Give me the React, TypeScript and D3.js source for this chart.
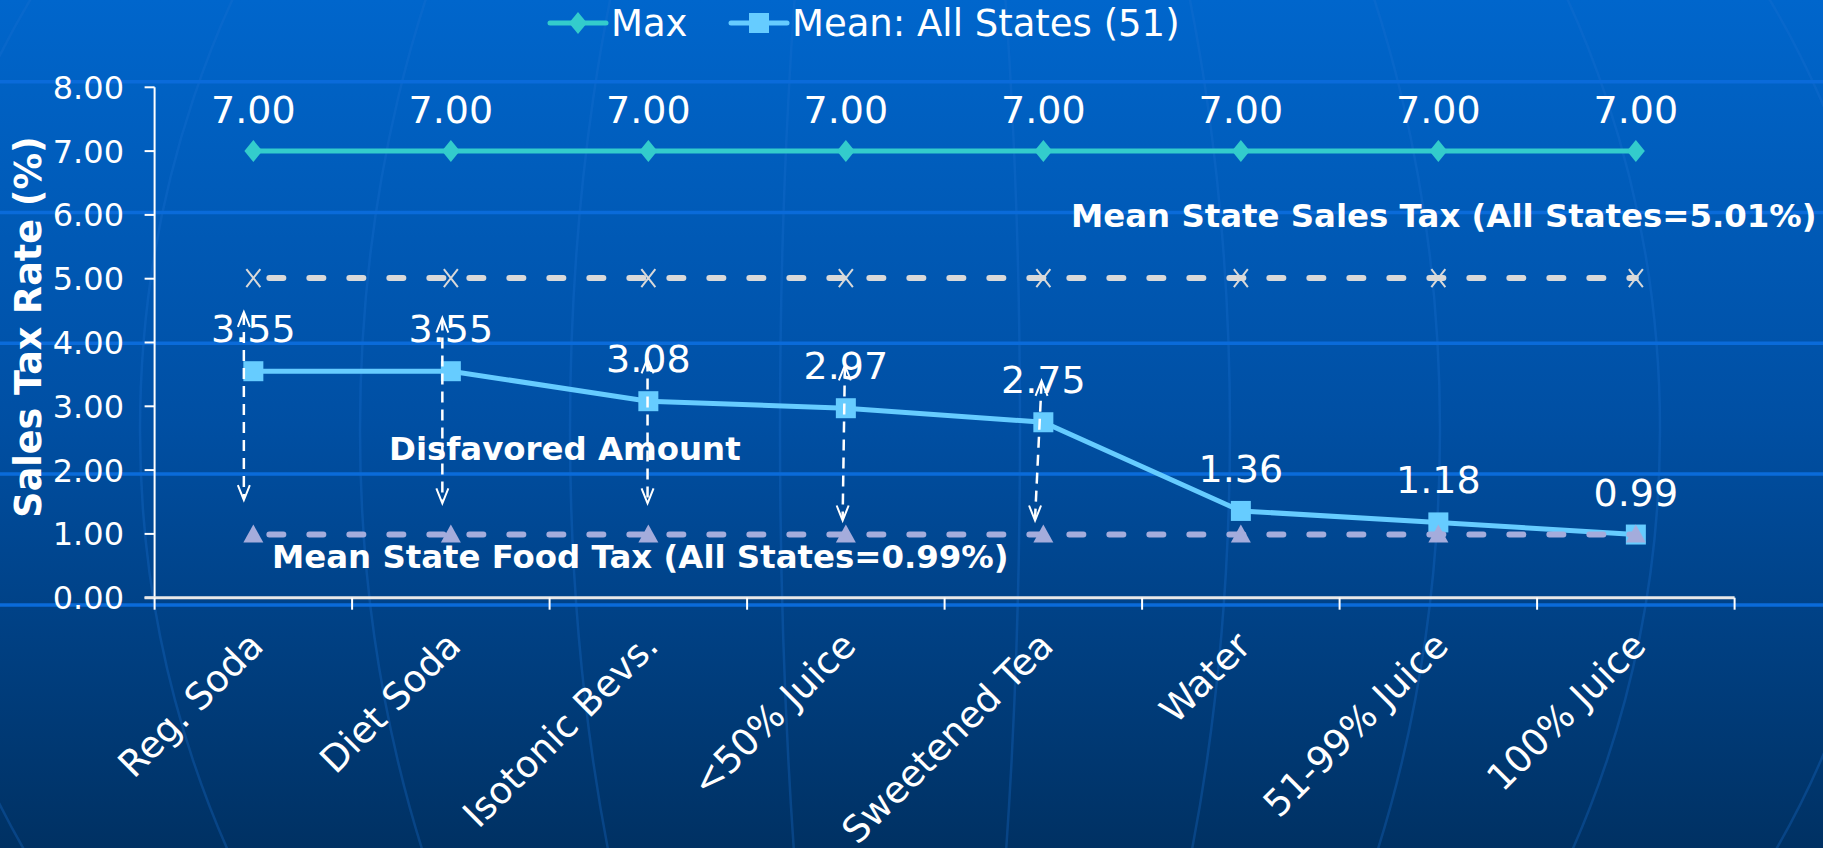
import React from 'react';
import { scaleBand, scaleLinear, line, range } from 'd3';

const categories = [
  'Reg. Soda',
  'Diet Soda',
  'Isotonic Bevs.',
  '<50% Juice',
  'Sweetened Tea',
  'Water',
  '51-99% Juice',
  '100% Juice',
];
const maxRate = [7, 7, 7, 7, 7, 7, 7, 7];
const meanRate = [3.55, 3.55, 3.08, 2.97, 2.75, 1.36, 1.18, 0.99];
const salesTaxMean = [5.01, 5.01, 5.01, 5.01, 5.01, 5.01, 5.01, 5.01];
const foodTaxMean = [0.99, 0.99, 0.99, 0.99, 0.99, 0.99, 0.99, 0.99];
const yTicks = [0, 1, 2, 3, 4, 5, 6, 7, 8];

// disfavored amount arrows (first five categories), in rate units
const arrowTop = [4.48, 4.39, 3.75, 3.64, 3.4];
const arrowBottom = [1.53, 1.48, 1.48, 1.21, 1.21];

const dim = {
  width: 1823,
  height: 848,
  left: 154.6,
  right: 1734.6,
  top: 87.3,
  bottom: 597.7,
};

// small horizontal nudge of each arrow (px), top / bottom end
const arrowNudgeTop = [-9.5, -8.5, -0.8, -1, -1.8];
const arrowNudgeBottom = [-9.5, -8.5, -0.8, -3.2, -8.3];

const C = {
  max: '#33CCCC',
  mean: '#66CCFF',
  sales: '#D9D9D9',
  food: '#A4ACDC',
  white: '#FFFFFF',
};

const font = '"DejaVu Sans", Verdana, sans-serif';

const App = () => {
  const x = scaleBand<string>().domain(categories).range([dim.left, dim.right]).padding(0);
  const y = scaleLinear().domain([0, 8]).range([dim.bottom, dim.top]);
  const cx = (i: number) => (x(categories[i]) as number) + x.bandwidth() / 2;

  const mk = line<number>()
    .x((_, i) => cx(i))
    .y((d) => y(d));

  const diamond = (px: number, py: number, w = 9, h = 11) =>
    `M${px},${py - h}L${px + w},${py}L${px},${py + h}L${px - w},${py}Z`;
  const triangle = (px: number, py: number) => `M${px},${py - 10}L${px + 10},${py + 8}L${px - 10},${py + 8}Z`;
  const cross = (px: number, py: number) =>
    `M${px - 7},${py - 9}L${px + 7},${py + 9}M${px + 7},${py - 9}L${px - 7},${py + 9}`;
  // open arrowhead with tip at (px, py); dir -1 points up, 1 points down
  const head = (px: number, py: number, dir: number) =>
    `M${px - 6},${py - dir * 15}L${px},${py}L${px + 6},${py - dir * 15}`;

  const latitudes = range(5).map((i) => 81.7 + i * 130.8);
  const meridianRx = [120, 330, 540, 760, 990, 1240, 1520];

  return (
    <svg
      width={dim.width}
      height={dim.height}
      style={{ position: 'absolute', left: 0, top: 0, fontFamily: font }}
    >
      <defs>
        <linearGradient id="bg" x1="0" y1="0" x2="0" y2="1">
          <stop offset="0" stopColor="#0066CC" />
          <stop offset="0.5" stopColor="#004FA3" />
          <stop offset="1" stopColor="#003163" />
        </linearGradient>
      </defs>
      <rect width={dim.width} height={dim.height} fill="url(#bg)" />

      {/* globe decoration */}
      <g fill="none" stroke="#1A6FD0" strokeOpacity={0.3} strokeWidth={2.5}>
        {meridianRx.map((rx) => (
          <ellipse key={rx} cx={900} cy={430} rx={rx} ry={900} />
        ))}
      </g>
      <g stroke="#0A6BDA" strokeWidth={3.5}>
        {latitudes.map((ly) => (
          <line key={ly} x1={0} x2={dim.width} y1={ly} y2={ly} />
        ))}
      </g>

      {/* legend */}
      <g fontSize={37} fill={C.white}>
        <line x1={550} x2={606} y1={23} y2={23} stroke={C.max} strokeWidth={5} strokeLinecap="round" />
        <path d={diamond(578, 23)} fill={C.max} />
        <text x={611} y={36}>Max</text>
        <line x1={731} x2={787} y1={23} y2={23} stroke={C.mean} strokeWidth={5} strokeLinecap="round" />
        <rect x={749} y={13} width={20} height={20} fill={C.mean} />
        <text x={792} y={36}>Mean: All States (51)</text>
      </g>

      {/* y axis */}
      <g stroke={C.white} strokeWidth={2}>
        <line x1={dim.left} x2={dim.left} y1={y(8)} y2={y(0)} />
        {yTicks.map((t) => (
          <line key={t} x1={dim.left - 10} x2={dim.left} y1={y(t)} y2={y(t)} />
        ))}
      </g>
      <g fontSize={32} fill={C.white} textAnchor="end">
        {yTicks.map((t) => (
          <text key={t} x={124} y={y(t)} dy="0.36em">
            {t.toFixed(2)}
          </text>
        ))}
      </g>
      <text
        transform={`translate(41, 327) rotate(-90)`}
        textAnchor="middle"
        fontSize={36.5}
        fontWeight="bold"
        fill={C.white}
      >
        Sales Tax Rate (%)
      </text>

      {/* x axis */}
      <g stroke={C.white} strokeWidth={2}>
        <line x1={dim.left - 10} x2={dim.right} y1={y(0)} y2={y(0)} strokeWidth={3} stroke="#E8E8E8" />
        {range(categories.length + 1).map((i) => {
          const tx = dim.left + i * x.bandwidth();
          return <line key={i} x1={tx} x2={tx} y1={y(0)} y2={y(0) + 12} />;
        })}
      </g>
      <g fontSize={37} fill={C.white} textAnchor="end">
        {categories.map((c, i) => (
          <text key={c} transform={`translate(${cx(i) - 8}, 628) rotate(-45)`} dy="0.76em">
            {c}
          </text>
        ))}
      </g>

      {/* mean line */}
      <path d={mk(meanRate) as string} fill="none" stroke={C.mean} strokeWidth={5} />
      {meanRate.map((v, i) => (
        <rect key={i} x={cx(i) - 10} y={y(v) - 10} width={20} height={20} fill={C.mean} />
      ))}

      {/* mean state sales tax */}
      <path
        d={mk(salesTaxMean) as string}
        fill="none"
        stroke={C.sales}
        strokeWidth={6}
        strokeDasharray="14 26"
        strokeLinecap="round"
        strokeDashoffset={-16}
      />
      <g stroke={C.sales} strokeWidth={2} fill="none">
        {salesTaxMean.map((v, i) => (
          <path key={i} d={cross(cx(i), y(v))} />
        ))}
      </g>

      {/* mean state food tax */}
      <path
        d={mk(foodTaxMean) as string}
        fill="none"
        stroke={C.food}
        strokeWidth={6}
        strokeDasharray="14 26"
        strokeLinecap="round"
        strokeDashoffset={-16}
      />
      {foodTaxMean.map((v, i) => (
        <path key={i} d={triangle(cx(i), y(v))} fill={C.food} />
      ))}

      {/* max line */}
      <path d={mk(maxRate) as string} fill="none" stroke={C.max} strokeWidth={5} />
      {maxRate.map((v, i) => (
        <path key={i} d={diamond(cx(i), y(v))} fill={C.max} />
      ))}

      {/* value labels */}
      <g fontSize={38} fill={C.white} textAnchor="middle">
        {maxRate.map((v, i) => (
          <text key={'m' + i} x={cx(i)} y={y(v) - 28}>
            {v.toFixed(2)}
          </text>
        ))}
        {meanRate.map((v, i) => (
          <text key={'a' + i} x={cx(i)} y={y(v) - 29}>
            {v.toFixed(2)}
          </text>
        ))}
      </g>

      {/* disfavored arrows */}
      <g stroke={C.white} strokeWidth={2.5} fill="none">
        {arrowTop.map((t, i) => {
          const x1 = cx(i) + arrowNudgeTop[i];
          const x2 = cx(i) + arrowNudgeBottom[i];
          const y1 = y(t);
          const y2 = y(arrowBottom[i]);
          return (
            <g key={i}>
              <line x1={x1} y1={y1 + 2} x2={x2} y2={y2 - 2} strokeDasharray="11 7" />
              <path d={head(x1, y1, -1)} strokeWidth={2} />
              <path d={head(x2, y2, 1)} strokeWidth={2} />
            </g>
          );
        })}
      </g>

      {/* annotations */}
      <g fontSize={32.4} fontWeight="bold" fill={C.white}>
        <text x={1071} y={227}>Mean State Sales Tax (All States=5.01%)</text>
        <text x={389} y={460}>Disfavored Amount</text>
        <text x={272} y={568}>Mean State Food Tax (All States=0.99%)</text>
      </g>
    </svg>
  );
};

export default App;
